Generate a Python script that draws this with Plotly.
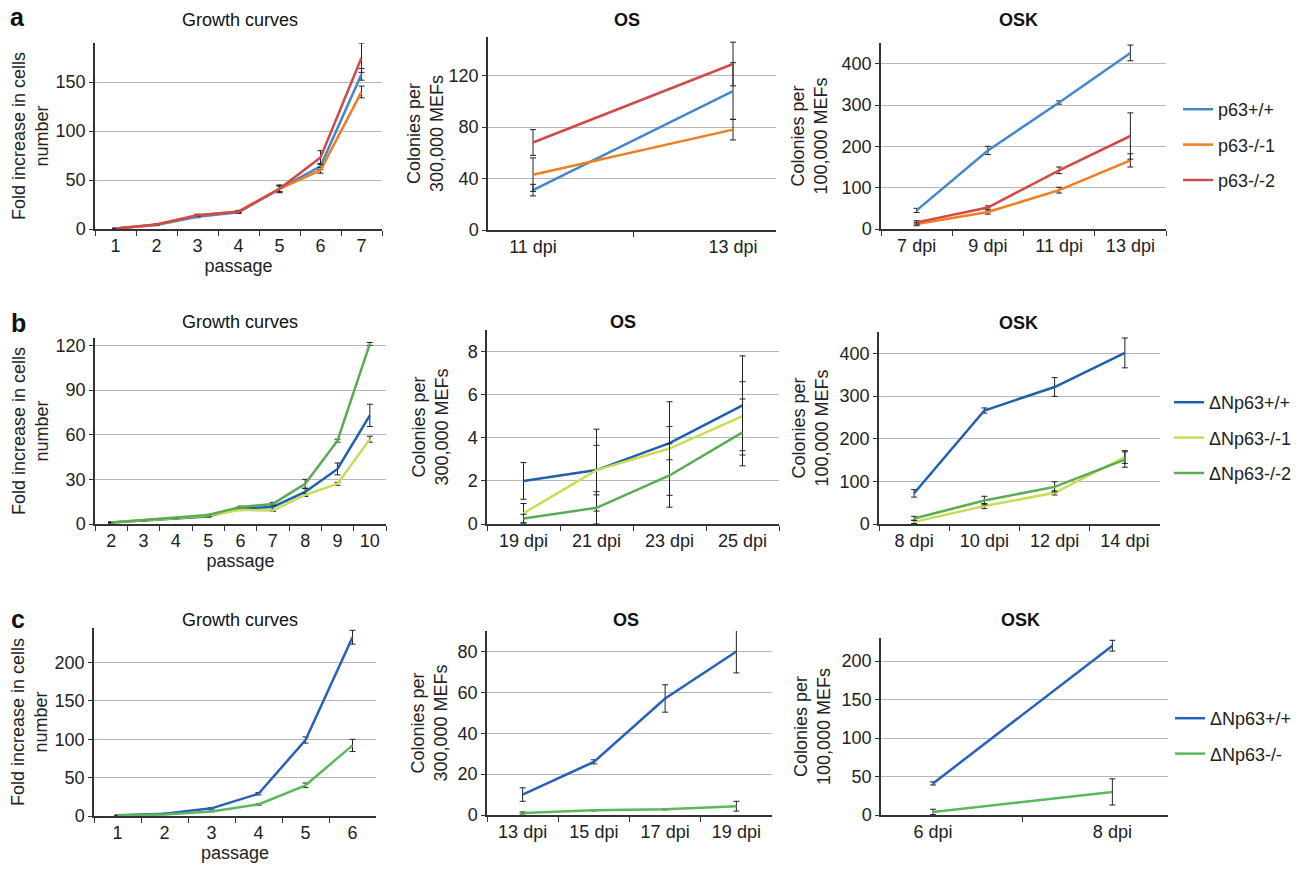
import plotly.graph_objects as go

# ---------------- data ----------------
# Row a
a_passage = ["1", "2", "3", "4", "5", "6", "7"]
a_gr_wt = [0.5, 4, 12.5, 17, 41, 64, 158]
a_gr_wt_err = [0.3, 0.5, 1, 1, 4, 3, 6]
a_gr_ko1 = [0.5, 4.5, 14, 18, 41, 60, 140]
a_gr_ko1_err = [0.3, 0.5, 1, 1, 3, 3, 6]
a_gr_ko2 = [0.5, 4.5, 14, 17.5, 41, 73, 175]
a_gr_ko2_err = [0.3, 0.5, 1, 1, 3, 7, 15]

a_os_days = ["11 dpi", "13 dpi"]
a_os_wt = [31, 108]
a_os_wt_err = [4.5, 22]
a_os_ko1 = [43, 78]
a_os_ko1_err = [13, 8]
a_os_ko2 = [68, 129]
a_os_ko2_err = [10, 17]

a_osk_days = ["7 dpi", "9 dpi", "11 dpi", "13 dpi"]
a_osk_wt = [45, 190, 306, 426]
a_osk_wt_err = [5, 10, 4, 19]
a_osk_ko1 = [12, 41, 94, 166]
a_osk_ko1_err = [4, 5, 7, 16]
a_osk_ko2 = [16, 52, 142, 225]
a_osk_ko2_err = [4, 4, 8, 56]

# Row b
b_passage = ["2", "3", "4", "5", "6", "7", "8", "9", "10"]
b_gr_wt = [1, 2.5, 4, 5, 10.5, 11.5, 21.5, 37, 73]
b_gr_wt_err = [0.3, 0.3, 0.3, 0.5, 1, 2, 2.5, 4, 7.5]
b_gr_ko1 = [1, 2.5, 4, 5.5, 9.5, 9, 19.5, 27, 57]
b_gr_ko1_err = [0.3, 0.3, 0.3, 0.5, 0.5, 0.5, 1, 1, 2]
b_gr_ko2 = [1, 2.5, 4, 6, 11.5, 13.5, 27, 56, 121]
b_gr_ko2_err = [0.3, 0.3, 0.3, 0.5, 0.5, 1, 3, 1, 1]

b_os_days = ["19 dpi", "21 dpi", "23 dpi", "25 dpi"]
b_os_wt = [2.0, 2.5, 3.75, 5.5]
b_os_wt_err = [0.85, 1.9, 0.77, 2.3]
b_os_ko1 = [0.5, 2.5, 3.5, 5.0]
b_os_ko1_err = [0.45, 1.15, 2.17, 1.6]
b_os_ko2 = [0.25, 0.75, 2.25, 4.25]
b_os_ko2_err = [0.2, 0.75, 1.47, 1.55]

b_osk_days = ["8 dpi", "10 dpi", "12 dpi", "14 dpi"]
b_osk_wt = [72, 266, 321, 401]
b_osk_wt_err = [9, 6, 22, 35]
b_osk_ko1 = [5, 42, 73, 157]
b_osk_ko1_err = [4, 6, 5, 15]
b_osk_ko2 = [13, 55, 87, 151]
b_osk_ko2_err = [5, 10, 12, 18]

# Row c
c_passage = ["1", "2", "3", "4", "5", "6"]
c_gr_wt = [1, 3, 10, 29, 99, 233]
c_gr_wt_err = [0.3, 0.5, 1, 1.5, 4, 9]
c_gr_ko = [0.5, 2, 6, 15, 40, 92]
c_gr_ko_err = [0.3, 0.3, 0.5, 1, 3, 8]

c_os_days = ["13 dpi", "15 dpi", "17 dpi", "19 dpi"]
c_os_wt = [10, 26, 57, 80]
c_os_wt_err = [3.3, 1, 6.7, 10.5]
c_os_ko = [1, 2.3, 2.8, 4.3]
c_os_ko_err = [0.5, 0.3, 0.3, 2.4]

c_osk_days = ["6 dpi", "8 dpi"]
c_osk_wt = [41, 220]
c_osk_wt_err = [2, 7]
c_osk_ko = [4, 30]
c_osk_ko_err = [3.5, 17]

# ---------------- style ----------------
W, H = 1305, 869
FONT = "Liberation Sans, Arial, sans-serif"
TXT = "#222222"
FS = 18
C_A = {"p63+/+": "#4387cc", "p63-/-1": "#f07d1e", "p63-/-2": "#d04a4a"}
C_B = {"ΔNp63+/+": "#1f5fae", "ΔNp63-/-1": "#c9dc55", "ΔNp63-/-2": "#5aac50"}
C_C = {"ΔNp63+/+": "#2860bb", "ΔNp63-/-": "#5cb85c"}


def px_x(p):
    return p / W


def px_y(p):
    return 1 - p / H


fig = go.Figure()


def add_panel(n, cats, series, xpx, ypx, yrange, dtick, ytitle, ystand,
              xtitle=None, legend=None, xrange=None):
    s = "" if n == 1 else str(n)
    for name, vals, errs, color in series:
        kw = {}
        if legend:
            kw = dict(legend=legend, legendgroup=legend + name)
        fig.add_trace(go.Scatter(
            x=cats, y=vals, mode="lines", name=name,
            line=dict(color=color, width=2.5),
            error_y=dict(type="data", array=errs, color="#222222",
                         thickness=1, width=3),
            xaxis="x" + s, yaxis="y" + s,
            showlegend=legend is not None, **kw))
    if xrange is None:
        xrange = [-0.5, len(cats) - 0.5]
    xa = dict(domain=[px_x(xpx[0]), px_x(xpx[1])], anchor="y" + s,
              type="category", tickson="boundaries", ticks="outside",
              ticklen=5, tickcolor="#333", showline=True, linecolor="#333",
              linewidth=1.5, showgrid=False, zeroline=False,
              range=xrange, automargin=False,
              tickfont=dict(size=FS, color=TXT, family=FONT),
              categoryorder="array", categoryarray=cats)
    if xtitle:
        xa["title"] = dict(text=xtitle, font=dict(size=FS, color=TXT),
                           standoff=2)
    ya = dict(domain=[px_y(ypx[1]), px_y(ypx[0])], anchor="x" + s,
              range=yrange, tick0=0, dtick=dtick, ticks="outside",
              ticklen=4, tickcolor="#333", showline=True, linecolor="#333",
              linewidth=1.5, showgrid=True, gridcolor="#b8b8b8",
              gridwidth=1, zeroline=False, automargin=False,
              tickfont=dict(size=FS, color=TXT, family=FONT),
              title=dict(text=ytitle, font=dict(size=FS, color=TXT),
                         standoff=ystand))
    fig.layout["xaxis" + s] = xa
    fig.layout["yaxis" + s] = ya


GR_T = "Fold increase in cells<br>number"
OS_T = "Colonies per<br>300,000 MEFs"
OSK_T = "Colonies per<br>100,000 MEFs"

# Row a
add_panel(1, a_passage, [
    ("p63+/+", a_gr_wt, a_gr_wt_err, C_A["p63+/+"]),
    ("p63-/-1", a_gr_ko1, a_gr_ko1_err, C_A["p63-/-1"]),
    ("p63-/-2", a_gr_ko2, a_gr_ko2_err, C_A["p63-/-2"])],
    (95, 382), (43, 229), [0, 190], 50, GR_T, 2, xtitle="passage")
add_panel(2, a_os_days, [
    ("p63+/+", a_os_wt, a_os_wt_err, C_A["p63+/+"]),
    ("p63-/-1", a_os_ko1, a_os_ko1_err, C_A["p63-/-1"]),
    ("p63-/-2", a_os_ko2, a_os_ko2_err, C_A["p63-/-2"])],
    (488, 776), (37, 230), [0, 150], 40, OS_T, 0, xrange=[-0.225, 1.215])
add_panel(3, a_osk_days, [
    ("p63+/+", a_osk_wt, a_osk_wt_err, C_A["p63+/+"]),
    ("p63-/-1", a_osk_ko1, a_osk_ko1_err, C_A["p63-/-1"]),
    ("p63-/-2", a_osk_ko2, a_osk_ko2_err, C_A["p63-/-2"])],
    (881, 1166), (43, 229), [0, 450], 100, OSK_T, 9, legend="legend")

# Row b
add_panel(4, b_passage, [
    ("ΔNp63+/+", b_gr_wt, b_gr_wt_err, C_B["ΔNp63+/+"]),
    ("ΔNp63-/-1", b_gr_ko1, b_gr_ko1_err, C_B["ΔNp63-/-1"]),
    ("ΔNp63-/-2", b_gr_ko2, b_gr_ko2_err, C_B["ΔNp63-/-2"])],
    (95, 386), (338, 524), [0, 125], 30, GR_T, 2, xtitle="passage")
add_panel(5, b_os_days, [
    ("ΔNp63+/+", b_os_wt, b_os_wt_err, C_B["ΔNp63+/+"]),
    ("ΔNp63-/-1", b_os_ko1, b_os_ko1_err, C_B["ΔNp63-/-1"]),
    ("ΔNp63-/-2", b_os_ko2, b_os_ko2_err, C_B["ΔNp63-/-2"])],
    (487, 779), (330, 524), [0, 9], 2, OS_T, 14)
add_panel(6, b_osk_days, [
    ("ΔNp63+/+", b_osk_wt, b_osk_wt_err, C_B["ΔNp63+/+"]),
    ("ΔNp63-/-1", b_osk_ko1, b_osk_ko1_err, C_B["ΔNp63-/-1"]),
    ("ΔNp63-/-2", b_osk_ko2, b_osk_ko2_err, C_B["ΔNp63-/-2"])],
    (879, 1160), (332, 524), [0, 450], 100, OSK_T, 6, legend="legend2")

# Row c
add_panel(7, c_passage, [
    ("ΔNp63+/+", c_gr_wt, c_gr_wt_err, C_C["ΔNp63+/+"]),
    ("ΔNp63-/-", c_gr_ko, c_gr_ko_err, C_C["ΔNp63-/-"])],
    (94, 376), (628, 816), [0, 245], 50, GR_T, 2, xtitle="passage")
add_panel(8, c_os_days, [
    ("ΔNp63+/+", c_os_wt, c_os_wt_err, C_C["ΔNp63+/+"]),
    ("ΔNp63-/-", c_os_ko, c_os_ko_err, C_C["ΔNp63-/-"])],
    (487, 772), (631, 815), [0, 90], 20, OS_T, 5)
add_panel(9, c_osk_days, [
    ("ΔNp63+/+", c_osk_wt, c_osk_wt_err, C_C["ΔNp63+/+"]),
    ("ΔNp63-/-", c_osk_ko, c_osk_ko_err, C_C["ΔNp63-/-"])],
    (881, 1168), (638, 815), [0, 230], 50, OSK_T, 6, legend="legend3",
    xrange=[-0.29, 1.31])

# titles and panel letters
titles = [
    ("a", 17, 17, 25, True), ("b", 18, 323, 25, True), ("c", 18, 619, 25, True),
    ("Growth curves", 240, 20, FS, False), ("OS", 627, 20, FS, True),
    ("OSK", 1018, 20, FS, True),
    ("Growth curves", 240, 322, FS, False), ("OS", 623, 322, FS, True),
    ("OSK", 1018, 323, FS, True),
    ("Growth curves", 240, 620, FS, False), ("OS", 626, 620, FS, True),
    ("OSK", 1020, 620, FS, True),
]
for text, x, y, size, bold in titles:
    fig.add_annotation(
        text="<b>%s</b>" % text if bold else text,
        x=px_x(x), y=px_y(y), xref="paper", yref="paper",
        xanchor="center", yanchor="middle", showarrow=False,
        font=dict(size=size, color="#111111", family=FONT))

leg_common = dict(xanchor="left", yanchor="top", bgcolor="rgba(0,0,0,0)",
                  font=dict(size=FS, color=TXT, family=FONT),
                  tracegroupgap=9, itemwidth=30, traceorder="grouped")
fig.update_layout(
    width=W, height=H, margin=dict(l=0, r=0, t=0, b=0),
    paper_bgcolor="white", plot_bgcolor="white",
    font=dict(family=FONT, size=FS, color=TXT),
    legend=dict(x=px_x(1178), y=px_y(91), **leg_common),
    legend2=dict(x=px_x(1169), y=px_y(384), **leg_common),
    legend3=dict(x=px_x(1170), y=px_y(700), **leg_common),
)

fig.write_html("out.html",
               config={"displayModeBar": False},
               post_script="document.body.style.margin='0px';")
